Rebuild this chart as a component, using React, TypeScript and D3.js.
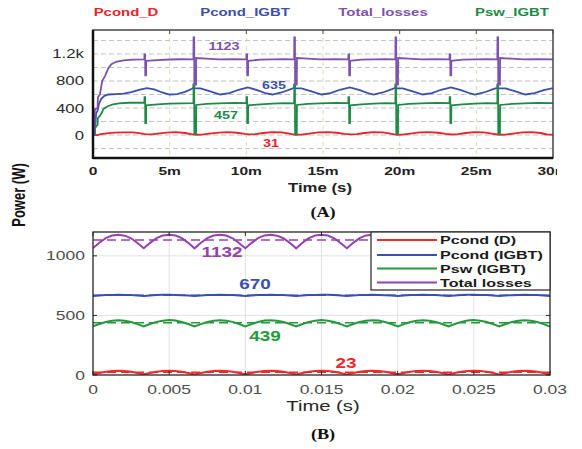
import React from "react";
import * as d3 from "d3";

// ---- panel (A): simulated losses, time in ms ----
const topNames = ["Pcond_D", "Pcond_IGBT", "Total_losses", "Psw_IGBT"];
const topColors = ["#e8232a", "#3b4fae", "#7b52ad", "#1e8a45"];
const topAvg = ["31", "635", "1123", "457"];
const topXTicks = [0, 5, 10, 15, 20, 25, 30];
const topXLabels = ["0", "5m", "10m", "15m", "20m", "25m", "30m"];
const topYTicks = [0, 400, 800, 1200];
const topYLabels = ["0", "400", "800", "1.2k"];
const topYGrid = [-200, 0, 200, 400, 600, 800, 1000, 1200, 1400];

const pcondD: [number, number][] = [
  [0, 0], [0.3, 0], [0.5, 12], [0.9, 25], [1.4, 35], [2.0, 40], [2.6, 38], [3.0, 28], [3.4, 12],
  [3.8, 10], [4.2, 22], [4.8, 36], [5.4, 42], [6.0, 30], [6.4, 12], [6.7, 4], [7.1, 6], [7.6, 20],
  [8.2, 36], [8.8, 42], [9.4, 34], [9.9, 18], [10.2, 10], [10.6, 14], [11.1, 30], [11.7, 44],
  [12.3, 38], [12.8, 20], [13.2, 4], [13.6, 6], [14.1, 22], [14.7, 38], [15.3, 42], [15.9, 34],
  [16.4, 18], [16.8, 10], [17.2, 14], [17.7, 30], [18.3, 44], [18.9, 38], [19.4, 20], [19.8, 4],
  [20.2, 6], [20.7, 22], [21.3, 38], [21.9, 42], [22.5, 34], [23.0, 18], [23.4, 8], [23.8, 12],
  [24.3, 30], [24.9, 44], [25.5, 38], [26.0, 20], [26.5, 4], [26.9, 6], [27.4, 22], [28.0, 38],
  [28.6, 42], [29.2, 30], [29.6, 8], [30, 6],
];

const pcondIGBT: [number, number][] = [
  [0, 0], [0.1, 0], [0.15, 120], [0.2, 320], [0.3, 360], [0.4, 470], [0.55, 540], [0.75, 580],
  [1.0, 600], [1.5, 605], [2.0, 612], [2.5, 635], [3.0, 670], [3.5, 695], [4.0, 675], [4.5, 630],
  [5.0, 600], [5.5, 605], [6.0, 640], [6.45, 685], [6.55, 700], [6.56, 750], [6.6, 750], [6.61, 690],
  [7.0, 690], [7.6, 650], [8.3, 600], [8.9, 620], [9.5, 670], [10.1, 705], [10.7, 665], [11.3, 615],
  [11.7, 600], [12.3, 630], [12.9, 680], [13.12, 700], [13.13, 750], [13.17, 750], [13.18, 690],
  [13.6, 690], [14.2, 650], [14.9, 600], [15.5, 620], [16.1, 670], [16.75, 705], [17.4, 665],
  [18.0, 615], [18.3, 600], [18.9, 630], [19.5, 680], [19.72, 700], [19.73, 750], [19.77, 750],
  [19.78, 690], [20.2, 690], [20.8, 650], [21.5, 600], [22.1, 620], [22.7, 670], [23.35, 705],
  [24.0, 665], [24.6, 615], [24.9, 600], [25.5, 630], [26.1, 680], [26.37, 700], [26.38, 750],
  [26.42, 750], [26.43, 690], [26.9, 690], [27.5, 650], [28.2, 600], [28.8, 620], [29.4, 665], [30, 695],
];

const totalLosses: [number, number][] = [
  [0, 0], [0.1, 0], [0.12, 380], [0.3, 400], [0.32, 560], [0.45, 600], [0.6, 800], [0.8, 880],
  [1.0, 990], [1.2, 1050], [1.5, 1085], [2.0, 1105], [2.6, 1115], [3.3, 1120],
  [3.35, 1125], [3.36, 1195], [3.4, 1195], [3.41, 885], [3.46, 885], [3.47, 1100], [4.2, 1110],
  [5.0, 1118], [5.8, 1122], [6.5, 1120],
  [6.55, 1125], [6.56, 1445], [6.6, 1445], [6.61, 745], [6.72, 745], [6.73, 1140], [7.4, 1130],
  [8.2, 1120], [9.2, 1125], [10.0, 1120],
  [10.01, 1195], [10.05, 1195], [10.06, 885], [10.11, 885], [10.12, 1100], [10.9, 1115], [11.7, 1120],
  [12.5, 1125], [13.1, 1120],
  [13.12, 1125], [13.13, 1445], [13.17, 1445], [13.18, 745], [13.29, 745], [13.3, 1140], [14.0, 1130],
  [14.8, 1120], [15.8, 1125], [16.65, 1120],
  [16.66, 1195], [16.7, 1195], [16.71, 885], [16.76, 885], [16.77, 1100], [17.5, 1115], [18.3, 1120],
  [19.1, 1125], [19.7, 1120],
  [19.72, 1125], [19.73, 1445], [19.77, 1445], [19.78, 745], [19.89, 745], [19.9, 1140], [20.6, 1130],
  [21.4, 1120], [22.4, 1125], [23.25, 1120],
  [23.26, 1195], [23.3, 1195], [23.31, 885], [23.36, 885], [23.37, 1100], [24.1, 1115], [24.9, 1120],
  [25.7, 1125], [26.35, 1120],
  [26.37, 1125], [26.38, 1445], [26.42, 1445], [26.43, 745], [26.54, 745], [26.55, 1140], [27.3, 1130],
  [28.1, 1120], [29.0, 1125], [30, 1120],
];

const pswIGBT: [number, number][] = [
  [0, 0], [0.12, 0], [0.14, 110], [0.3, 150], [0.32, 250], [0.5, 300], [0.7, 390], [1.0, 430],
  [1.3, 455], [1.7, 470], [2.3, 478], [3.3, 478],
  [3.35, 480], [3.36, 560], [3.4, 560], [3.41, 175], [3.46, 175], [3.47, 440], [4.2, 455],
  [5.0, 465], [5.8, 470], [6.5, 472],
  [6.55, 475], [6.56, 740], [6.6, 740], [6.61, 15], [6.72, 15], [6.73, 445], [7.4, 460],
  [8.2, 470], [9.2, 475], [10.0, 472],
  [10.01, 560], [10.05, 560], [10.06, 175], [10.11, 175], [10.12, 440], [10.9, 455], [11.7, 465],
  [12.5, 472], [13.1, 470],
  [13.12, 475], [13.13, 740], [13.17, 740], [13.18, 15], [13.29, 15], [13.3, 445], [14.0, 460],
  [14.8, 470], [15.8, 475], [16.65, 472],
  [16.66, 560], [16.7, 560], [16.71, 175], [16.76, 175], [16.77, 440], [17.5, 455], [18.3, 465],
  [19.1, 472], [19.7, 470],
  [19.72, 475], [19.73, 740], [19.77, 740], [19.78, 15], [19.89, 15], [19.9, 445], [20.6, 460],
  [21.4, 470], [22.4, 475], [23.25, 472],
  [23.26, 560], [23.3, 560], [23.31, 175], [23.36, 175], [23.37, 440], [24.1, 455], [24.9, 465],
  [25.7, 472], [26.35, 470],
  [26.37, 475], [26.38, 740], [26.42, 740], [26.43, 15], [26.54, 15], [26.55, 445], [27.3, 460],
  [28.1, 470], [29.0, 475], [30, 472],
];

const topSeries = [pcondD, pcondIGBT, pswIGBT, totalLosses];
const topSeriesColor = [topColors[0], topColors[1], topColors[3], topColors[2]];

// ---- panel (B): one steady-state window, time in s, 8 samples per 1/300 s ----
const botNames = ["Pcond (D)", "Pcond (IGBT)", "Psw (IGBT)", "Total losses"];
const botColors = ["#f02a2a", "#3b4fb2", "#23993c", "#9442ad"];
const botAvg = [23, 670, 439, 1132];
const botXTicks = [0, 0.005, 0.01, 0.015, 0.02, 0.025, 0.03];
const botXLabels = ["0", "0.005", "0.01", "0.015", "0.02", "0.025", "0.03"];
const botYTicks = [0, 500, 1000];

const bRed = [
  5, 17, 27, 33, 35, 33, 27, 17, 6, 17, 28, 33, 36, 33, 27, 16, 5, 17, 27, 34, 35, 33, 27, 17,
  6, 17, 27, 33, 35, 34, 28, 17, 5, 16, 27, 33, 36, 33, 27, 17, 5, 17, 28, 34, 35, 33, 27, 16,
  6, 17, 27, 33, 35, 33, 27, 17, 5, 17, 27, 33, 36, 34, 28, 17, 5, 16, 27, 33, 35, 33, 27, 17, 5,
];
const bBlue = [
  663, 668, 671, 672, 673, 672, 671, 668, 662, 668, 671, 673, 673, 672, 670, 667, 663, 668, 671, 672,
  673, 672, 671, 668, 662, 668, 671, 672, 673, 672, 671, 668, 663, 667, 671, 672, 673, 673, 671, 668,
  662, 668, 671, 672, 673, 672, 670, 668, 663, 668, 671, 672, 673, 672, 671, 667, 662, 668, 671, 673,
  673, 672, 671, 668, 663, 668, 670, 672, 673, 672, 671, 668, 662,
];
const bGreen = [
  408, 428, 445, 456, 460, 456, 445, 427, 407, 428, 446, 456, 461, 457, 445, 428, 408, 427, 445, 456,
  460, 456, 446, 428, 407, 428, 445, 457, 460, 456, 445, 428, 408, 428, 446, 456, 461, 456, 445, 427,
  407, 428, 445, 456, 460, 457, 445, 428, 408, 427, 445, 456, 460, 456, 446, 428, 407, 428, 446, 457,
  461, 456, 445, 428, 408, 428, 445, 456, 460, 456, 445, 427, 406,
];
const bPurple = [
  1066, 1110, 1148, 1170, 1176, 1169, 1147, 1108, 1064, 1109, 1149, 1171, 1177, 1170, 1148, 1109,
  1063, 1110, 1148, 1170, 1176, 1170, 1147, 1108, 1064, 1109, 1148, 1171, 1177, 1169, 1148, 1109,
  1063, 1110, 1149, 1170, 1176, 1170, 1147, 1108, 1064, 1109, 1148, 1171, 1177, 1170, 1148, 1109,
  1063, 1110, 1148, 1170, 1176, 1169, 1147, 1108, 1064, 1109, 1149, 1171, 1177, 1170, 1148, 1109,
  1063, 1110, 1148, 1170, 1176, 1170, 1147, 1108, 1062,
];
const botSeries = [bRed, bBlue, bGreen, bPurple];
const bTime = d3.range(bRed.length).map((i) => (i * 0.03) / (bRed.length - 1));

const SANS = "'Liberation Sans', Arial, sans-serif";
const SX = 1.4; // text in the reference is stretched horizontally

const SText = (props: any) => {
  const { x, y, size, weight, fill, anchor, family, sx, rotate, children } = props;
  const t = `translate(${x},${y}) scale(${sx ?? SX},1)` + (rotate ? ` rotate(${rotate})` : "");
  return (
    <text
      transform={t}
      fontSize={size}
      fontWeight={weight ?? "normal"}
      fill={fill ?? "#222"}
      textAnchor={anchor ?? "middle"}
      fontFamily={family ?? SANS}
    >
      {children}
    </text>
  );
};

const TopPanel = () => {
  const x = d3.scaleLinear().domain([0, 30]).range([93, 553]);
  const y = d3.scaleLinear().domain([-340, 1555]).range([158, 30]);
  const line = d3
    .line<[number, number]>()
    .x((d) => x(d[0]))
    .y((d) => y(d[1]));
  const titleX = [126, 245, 383, 512];
  const avgPos = [
    [271, 147],
    [274, 89],
    [224, 50],
    [226, 119],
  ];
  const [x0, x1] = x.range();
  const [y0, y1] = y.range();

  return (
    <g>
      <defs>
        <clipPath id="topClip">
          <rect x={x0} y={y1} width={x1 - x0} height={y0 - y1} />
        </clipPath>
        <clipPath id="edgeClip">
          <rect x={0} y={0} width={557} height={449} />
        </clipPath>
      </defs>
      {topNames.map((n, i) => (
        <SText key={n} x={titleX[i]} y={16} size={11.5} weight="bold" fill={topColors[i]} sx={1.3}>
          {n}
        </SText>
      ))}
      {topYGrid.map((v) => (
        <line key={v} x1={x0} x2={x1} y1={y(v)} y2={y(v)} stroke="#c4c4c4" strokeDasharray="5,3" />
      ))}
      {topXTicks.slice(1, -1).map((t) => (
        <line key={t} x1={x(t)} x2={x(t)} y1={y1} y2={y0} stroke="#d4e0b4" strokeDasharray="4,4" />
      ))}
      {topXTicks.map((t) => (
        <line key={t} x1={x(t)} x2={x(t)} y1={y1} y2={y1 + 4} stroke="#555" />
      ))}
      <g clipPath="url(#topClip)">
        {topSeries.map((s, i) => (
          <path key={i} d={line(s) ?? ""} fill="none" stroke={topSeriesColor[i]} strokeWidth={1.8} />
        ))}
      </g>
      <rect x={x0} y={y1} width={x1 - x0} height={y0 - y1} fill="none" stroke="#444" strokeWidth={1.5} />
      <line x1={x0} x2={x0} y1={y1} y2={y0 + 1} stroke="#111" strokeWidth={2.5} />
      <line x1={x0} x2={x1} y1={y0} y2={y0} stroke="#111" strokeWidth={2.5} />
      {topYTicks.map((v, i) => (
        <SText key={v} x={84} y={y(v) + 4.5} size={12} anchor="end" fill="#2a2a2a">
          {topYLabels[i]}
        </SText>
      ))}
      <g clipPath="url(#edgeClip)">
        {topXTicks.map((t, i) => (
          <SText key={t} x={x(t)} y={175} size={11.5} weight="bold" fill="#222" sx={1.35}>
            {topXLabels[i]}
          </SText>
        ))}
      </g>
      <SText x={320} y={192} size={12} weight="bold" fill="#222">
        Time (s)
      </SText>
      {topAvg.map((a, i) => (
        <SText key={a} x={avgPos[i][0]} y={avgPos[i][1]} size={11.5} weight="bold" fill={topColors[i]} sx={1.25}>
          {a}
        </SText>
      ))}
    </g>
  );
};

const BottomPanel = () => {
  const x = d3.scaleLinear().domain([0, 0.03]).range([93, 550]);
  const y = d3.scaleLinear().domain([0, 1200]).range([375, 232]);
  const line = d3
    .line<number>()
    .x((_, i) => x(bTime[i]))
    .y((d) => y(d));
  const [x0, x1] = x.range();
  const [y0, y1] = y.range();
  const avgPos = [
    [346, 368],
    [255, 289],
    [265, 341],
    [222, 257],
  ];
  const legendRows = [240, 255, 268.5, 282.5];

  return (
    <g>
      <defs>
        <clipPath id="botClip">
          <rect x={x0} y={y1} width={x1 - x0} height={y0 - y1} />
        </clipPath>
      </defs>
      {botXTicks.slice(1, -1).map((t) => (
        <line key={t} x1={x(t)} x2={x(t)} y1={y1} y2={y0} stroke="#e2e2e2" />
      ))}
      {botYTicks.slice(1).map((v) => (
        <line key={v} x1={x0} x2={x1} y1={y(v)} y2={y(v)} stroke="#e2e2e2" />
      ))}
      <g clipPath="url(#botClip)">
        {botSeries.map((s, i) => (
          <g key={i}>
            <path d={line(s) ?? ""} fill="none" stroke={botColors[i]} strokeWidth={2} />
            <line
              x1={x0}
              x2={x1}
              y1={y(botAvg[i])}
              y2={y(botAvg[i])}
              stroke={botColors[i]}
              strokeWidth={1.5}
              strokeDasharray="9,5"
            />
          </g>
        ))}
      </g>
      <rect x={x0} y={y1} width={x1 - x0} height={y0 - y1} fill="none" stroke="#262626" strokeWidth={1.3} />
      {botXTicks.map((t) => (
        <g key={t}>
          <line x1={x(t)} x2={x(t)} y1={y0} y2={y0 - 4} stroke="#262626" />
          <line x1={x(t)} x2={x(t)} y1={y1} y2={y1 + 4} stroke="#262626" />
        </g>
      ))}
      {botYTicks.map((v) => (
        <g key={v}>
          <line x1={x0} x2={x0 + 4} y1={y(v)} y2={y(v)} stroke="#262626" />
          <line x1={x1} x2={x1 - 4} y1={y(v)} y2={y(v)} stroke="#262626" />
        </g>
      ))}
      {botYTicks.map((v) => (
        <SText key={v} x={85} y={y(v) + 4.5} size={12.5} anchor="end" fill="#4d4d4d">
          {String(v)}
        </SText>
      ))}
      {botXTicks.map((t, i) => (
        <SText key={t} x={x(t)} y={394} size={12.5} fill="#4d4d4d">
          {botXLabels[i]}
        </SText>
      ))}
      <SText x={323} y={411} size={15} fill="#262626" sx={1.35}>
        Time (s)
      </SText>
      {botAvg.map((a, i) => (
        <SText key={a} x={avgPos[i][0]} y={avgPos[i][1]} size={14} weight="bold" fill={botColors[i]} sx={1.35}>
          {String(a)}
        </SText>
      ))}
      <rect x={371} y={y1} width={x1 - 371} height={58} fill="#fff" stroke="#333" strokeWidth={1.3} />
      {botNames.map((n, i) => (
        <g key={n}>
          <line x1={377} x2={437} y1={legendRows[i]} y2={legendRows[i]} stroke={botColors[i]} strokeWidth={2} />
          <SText x={440} y={legendRows[i] + 4} size={11.5} weight="bold" anchor="start" fill="#1a1a1a">
            {n}
          </SText>
        </g>
      ))}
    </g>
  );
};

export default function App() {
  return (
    <svg
      width={582}
      height={449}
      style={{ position: "absolute", left: 0, top: 0, background: "#fff" }}
    >
      <rect width={582} height={449} fill="#fff" />
      <TopPanel />
      <SText x={25} y={195} size={13} weight="bold" fill="#111" sx={1.35} rotate={-90}>
        Power (W)
      </SText>
      <SText x={323} y={217} size={14} weight="bold" fill="#111" family="'Liberation Serif', 'Times New Roman', serif" sx={1.3}>
        (A)
      </SText>
      <BottomPanel />
      <SText x={323} y={439} size={14} weight="bold" fill="#111" family="'Liberation Serif', 'Times New Roman', serif" sx={1.3}>
        (B)
      </SText>
    </svg>
  );
}
